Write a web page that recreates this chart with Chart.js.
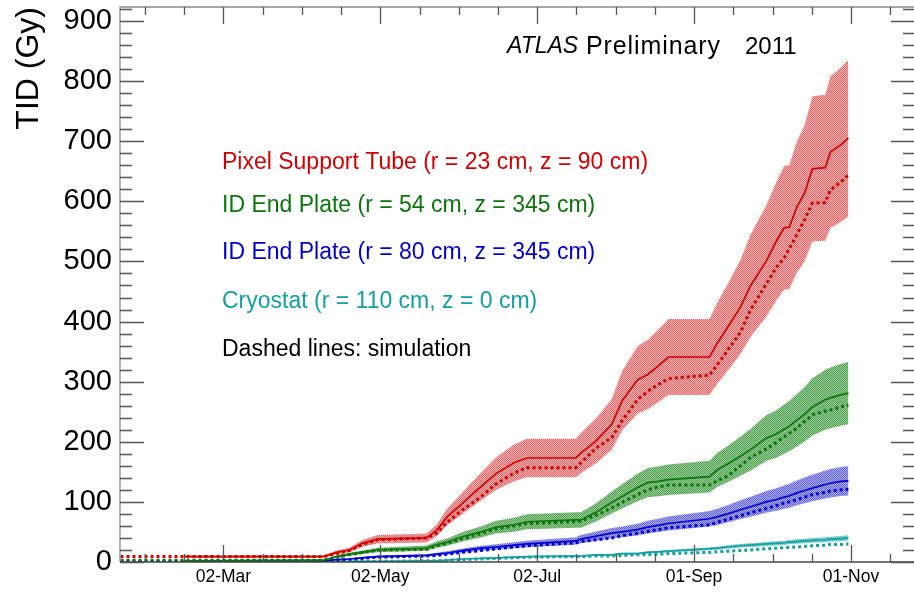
<!DOCTYPE html>
<html>
<head>
<meta charset="utf-8">
<script src="https://cdn.jsdelivr.net/npm/chart.js@4/dist/chart.umd.min.js"></script>
<style>
  html, body { margin: 0; padding: 0; background: #fff; overflow: hidden; }
  canvas { display: block; }
</style>
</head>
<body>
<canvas id="c" width="914" height="592"></canvas>
<script>
// Day of year 2011 for each sample
const days = [21, 46, 100, 105, 110, 115, 121, 140, 144, 148,
              154, 161, 167, 174, 179, 198, 200, 206, 212, 216,
              222, 226, 230, 234, 250, 253, 257, 262, 266, 272,
              276, 279, 281, 284, 287, 290, 295, 297, 301, 304];

// Measured total ionising dose (Gy)
const pixelMeas = [null, 9, 9, 16, 20, 31, 38, 40, 53, 75,
                   98, 125, 147, 165, 173, 173, 181, 202, 229, 268,
                   303, 312, 326, 341, 341, 364, 390, 424, 460, 500,
                   534, 556, 557, 591, 614, 654, 656, 682, 694, 705];
const endPlate54Meas = [null, 2, 3, 9, 13, 16, 20, 23, 29, 33,
                        42, 50, 58, 62, 67, 70, 70, 83, 99, 109,
                        124, 132, 134, 137, 142, 153, 163, 176, 187, 206,
                        213, 221, 226, 236, 246, 258, 270, 273, 278, 281];
const endPlate80Meas = [null, 1, 2, 4, 5, 7, 9, 11, 13, 15,
                        19, 23, 25, 28, 30, 35, 38, 43, 48, 50,
                        54, 58, 61, 64, 72, 75, 80, 87, 92, 100,
                        104, 108, 110, 115, 119, 123, 129, 131, 134, 135];
const cryostatMeas = [null, 0, 0, 0, 1, 1, 1, 2, 2, 3,
                      5, 6, 7, 8, 9, 10, 10, 12, 12, 14,
                      14, 16, 17, 18, 22, 23, 25, 27, 28, 30,
                      31, 32, 33, 34, 35, 36, 37, 38, 39, 40];

// Simulated dose (Gy)
const pixelSim = [9, 9, 9, 14, 19, 29, 37, 40, 48, 66,
                  87, 108, 130, 148, 157, 157, 165, 190, 207, 235,
                  270, 284, 295, 305, 311, 328, 352, 382, 420, 462,
                  490, 506, 521, 545, 570, 597, 598, 619, 632, 644];
const endPlate54Sim = [3, 3, 3, 8, 12, 16, 20, 21, 27, 31,
                       39, 47, 55, 60, 64, 67, 68, 78, 90, 99,
                       112, 120, 125, 128, 128, 135, 143, 160, 174, 188,
                       199, 208, 214, 223, 234, 245, 251, 253, 258, 261];
const endPlate80Sim = [1, 1, 2, 3, 4, 6, 8, 10, 11, 13,
                       16, 19, 22, 25, 27, 32, 34, 37, 40, 44,
                       48, 51, 54, 57, 62, 66, 71, 77, 82, 89,
                       94, 98, 100, 104, 108, 112, 116, 118, 120, 121];
const cryostatSim = [0, 0, 0, 0, 1, 1, 1, 2, 2, 3,
                     4, 5, 6, 7, 8, 9, 9, 10, 10, 11,
                     12, 12, 13, 14, 16, 17, 18, 19, 20, 22,
                     23, 24, 24, 25, 26, 27, 28, 29, 29, 30];

// Relative measurement uncertainty of each dosimeter
const pixelErr = 0.185;
const endPlate54Err = 0.185;
const endPlate80Err = 0.18;
const cryostatErr = 0.11;

// Axis ticks
const tickDays = [61, 122, 183, 244, 305];
const tickLabels = ['02-Mar', '02-May', '02-Jul', '01-Sep', '01-Nov'];
const doseTicks = [0, 100, 200, 300, 400, 500, 600, 700, 800, 900];

const legendLines = [
  { text: 'Pixel Support Tube (r = 23 cm, z = 90 cm)', color: '#d40000', y: 163 },
  { text: 'ID End Plate (r = 54 cm, z = 345 cm)', color: '#0b750b', y: 206 },
  { text: 'ID End Plate (r = 80 cm, z = 345 cm)', color: '#0000cc', y: 253 },
  { text: 'Cryostat (r = 110 cm, z = 0 cm)', color: '#12a0a0', y: 302 },
  { text: 'Dashed lines: simulation', color: '#000000', y: 350 }
];

const FONT = '"Liberation Sans", Arial, Helvetica, sans-serif';
const canvas = document.getElementById('c');
const ctx = canvas.getContext('2d');

function pts(vals) {
  return days.map((d, i) => ({ x: d, y: vals[i] }));
}
function scaled(vals, f) {
  return vals.map(v => (v === null ? null : v * f));
}
// fine checkered fill, like a dotted band
function checker(c1, c2) {
  const p = document.createElement('canvas');
  p.width = 2; p.height = 2;
  const g = p.getContext('2d');
  g.fillStyle = c2; g.fillRect(0, 0, 2, 2);
  g.fillStyle = c1; g.fillRect(0, 0, 1, 1); g.fillRect(1, 1, 1, 1);
  return ctx.createPattern(p, 'repeat');
}

const series = [
  { meas: pixelMeas, sim: pixelSim, err: pixelErr, line: '#d40000', fill: checker('#e46262', '#f6b8b8') },
  { meas: endPlate54Meas, sim: endPlate54Sim, err: endPlate54Err, line: '#0b750b', fill: checker('#4a9e4a', '#a0cea0') },
  { meas: endPlate80Meas, sim: endPlate80Sim, err: endPlate80Err, line: '#0000d0', fill: checker('#5c5ce4', '#b2b2f8') },
  { meas: cryostatMeas, sim: cryostatSim, err: cryostatErr, line: '#12a0a0', fill: checker('#4ab6b6', '#a8e2e2') }
];

const datasets = [];
series.forEach(s => {
  datasets.push({
    data: pts(scaled(s.meas, 1 + s.err)), borderColor: 'transparent', borderWidth: 0,
    backgroundColor: s.fill, fill: '+1', order: 10
  });
  datasets.push({
    data: pts(scaled(s.meas, 1 - s.err)), borderColor: 'transparent', borderWidth: 0,
    fill: false, order: 10
  });
});
series.forEach(s => {
  datasets.push({
    data: pts(s.sim), borderColor: s.line, borderWidth: 3, borderDash: [3, 3],
    fill: false, order: 2
  });
});
series.forEach(s => {
  datasets.push({
    data: pts(s.meas), borderColor: s.line, borderWidth: 1.7,
    fill: false, order: 1
  });
});

// Frame, inward ticks and text annotations
const framePlugin = {
  id: 'frame',
  afterDraw(chart) {
    const c = chart.ctx;
    const { left, right, top, bottom } = chart.chartArea;
    const xs = chart.scales.x, ys = chart.scales.y;
    c.save();
    c.lineWidth = 1.3;
    c.strokeStyle = '#8a8a8a';
    c.beginPath();
    c.moveTo(left, bottom); c.lineTo(left, top); c.lineTo(right, top);
    c.stroke();
    c.strokeStyle = '#444';
    c.beginPath();
    c.moveTo(left, bottom); c.lineTo(right, bottom);
    c.stroke();

    c.strokeStyle = '#555';
    // time ticks: majors every 61 days, 4 divisions
    for (let d = tickDays[0] - 61; d <= xs.max; d += 15.25) {
      if (d < xs.min) continue;
      const x = Math.round(xs.getPixelForValue(d)) + 0.5;
      const k = (d - tickDays[0]) / 61;
      const major = Math.abs(k - Math.round(k)) < 1e-6;
      const len = major ? 17 : 8;
      c.beginPath();
      c.moveTo(x, bottom); c.lineTo(x, bottom - len);
      c.moveTo(x, top); c.lineTo(x, top + len);
      c.stroke();
    }
    // dose ticks: majors every 100, minors every 20
    for (let v = 0; v <= ys.max; v += 20) {
      const y = Math.round(ys.getPixelForValue(v)) + 0.5;
      const major = v % 100 === 0;
      const lenL = major ? 24 : 12;
      const lenR = major ? 23 : 11;
      c.beginPath();
      c.moveTo(left, y); c.lineTo(left + lenL, y);
      c.moveTo(right, y); c.lineTo(right - lenR, y);
      c.stroke();
    }

    c.textBaseline = 'middle';
    c.textAlign = 'left';
    c.fillStyle = '#000';
    c.font = 'italic 23px ' + FONT;
    c.fillText('ATLAS', 507, 47);
    c.font = '25px ' + FONT;
    c.letterSpacing = '0.9px';
    c.fillText('Preliminary', 586, 47);
    c.letterSpacing = '0px';
    c.font = '24px ' + FONT;
    c.fillText('2011', 745, 47);

    c.font = '23px ' + FONT;
    legendLines.forEach(l => {
      c.fillStyle = l.color;
      c.fillText(l.text, 222, l.y);
    });
    c.restore();
  }
};

new Chart(ctx, {
  type: 'line',
  data: { datasets },
  options: {
    responsive: false,
    animation: false,
    devicePixelRatio: 1,
    layout: { padding: { top: 7, right: 0, left: 0, bottom: 0 } },
    elements: { point: { radius: 0, hoverRadius: 0 }, line: { tension: 0 } },
    plugins: { legend: { display: false }, tooltip: { enabled: false } },
    events: [],
    scales: {
      x: {
        type: 'linear',
        min: 20.8,
        max: 329.5,
        grid: { display: false, drawTicks: false },
        border: { display: false },
        afterBuildTicks: s => { s.ticks = tickDays.map(v => ({ value: v })); },
        afterFit: s => { s.height = 30; s.paddingLeft = 0; s.paddingRight = 0; },
        ticks: {
          autoSkip: false,
          maxRotation: 0,
          padding: 5,
          color: '#000',
          font: { family: FONT, size: 17.5 },
          callback: v => tickLabels[tickDays.indexOf(v)]
        }
      },
      y: {
        min: 0,
        max: 923.3,
        grid: { display: false, drawTicks: false },
        border: { display: false },
        afterBuildTicks: s => { s.ticks = doseTicks.map(v => ({ value: v })); },
        afterFit: s => { s.width = 120; s.paddingTop = 0; s.paddingBottom = 0; },
        ticks: {
          padding: 8,
          color: '#000',
          font: { family: FONT, size: 29 }
        },
        title: {
          display: true,
          text: 'TID (Gy)',
          align: 'end',
          color: '#000',
          font: { family: FONT, size: 32 },
          padding: { top: 10, bottom: 0 }
        }
      }
    }
  },
  plugins: [framePlugin]
});
</script>
</body>
</html>
